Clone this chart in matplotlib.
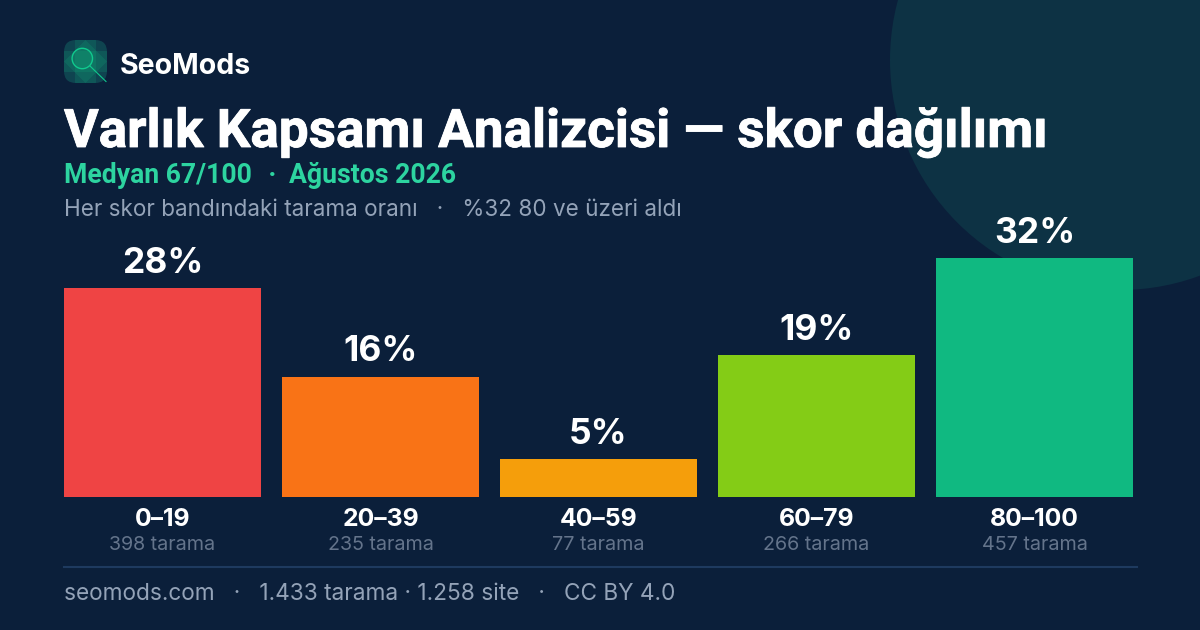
import matplotlib
matplotlib.use('Agg')
import matplotlib.pyplot as plt
import matplotlib.patheffects as pe
from matplotlib.patches import Circle, FancyBboxPatch, Polygon, Rectangle

# Data
bands = ['0–19', '20–39', '40–59', '60–79', '80–100']
shares = [28, 16.1, 5.1, 19, 32]
scans = [398, 235, 77, 266, 457]
colors = ['#ef4444', '#f97316', '#f59e0b', '#84cc16', '#10b981']

BG = '#0b1f3a'
plt.rcParams['font.family'] = ['Inter', 'DejaVu Sans']

fig = plt.figure(figsize=(12, 6.3), dpi=100, facecolor=BG)

# full figure layer in pixels
bg = fig.add_axes([0, 0, 1, 1])
bg.set_xlim(0, 1200)
bg.set_ylim(630, 0)
bg.axis('off')
bg.add_patch(Circle((1120, 60), 230, color='#0d3244', lw=0))

# logo
box = FancyBboxPatch((64, 40), 43, 43, boxstyle='round,pad=0,rounding_size=12', color='#0f4450', lw=0)
bg.add_patch(box)
for shape in [Rectangle((75, 40), 21, 43), Rectangle((64, 51), 43, 21),
              Polygon([(85.5, 40), (107, 61.5), (85.5, 83), (64, 61.5)])]:
    shape.set(color='#10b981', alpha=0.17, lw=0)
    bg.add_patch(shape)
    shape.set_clip_path(box)
bg.add_patch(Circle((82.3, 58.5), 10.2, fc='#10b981', alpha=0.2, lw=0))
bg.add_patch(Circle((82.3, 58.5), 10.2, fc='none', ec='#10c98d', lw=1))
bg.plot([90, 106], [66, 81.5], color='#10c98d', lw=0.8)


def label(x, y, s, size, color, weight='normal', ha='left', family=None, stroke=0):
    t = bg.text(x, y, s, fontsize=size, color=color, fontweight=weight, ha=ha, va='baseline',
                family=family or ['Inter', 'DejaVu Sans'])
    if stroke:
        t.set_path_effects([pe.withStroke(linewidth=stroke, foreground=color)])


label(120, 74, 'SeoMods', 20.5, 'white', 'bold')
label(64, 147, 'Varlık Kapsamı Analizcisi — skor dağılımı', 38.2, 'white', 'bold',
      family=['Roboto', 'DejaVu Sans'], stroke=0.6)
label(64, 183, 'Medyan 67/100', 19.2, '#2dd4a0', 'bold', family=['Roboto', 'DejaVu Sans'])
label(268, 183, '·', 18.5, '#2dd4a0', 'bold')
label(289, 183, 'Ağustos 2026', 19.2, '#2dd4a0', 'bold', family=['Roboto', 'DejaVu Sans'])
label(64, 216, 'Her skor bandındaki tarama oranı   ·   %32 80 ve üzeri aldı', 16.2, '#94a3b8')

# bars
ax = fig.add_axes([64 / 1200, (630 - 497) / 630, (1133 - 64) / 1200, (497 - 258) / 630])
ax.patch.set_alpha(0)
ax.axis('off')
pos = range(len(bands))
ax.bar(pos, shares, width=197 / 218, color=colors)
ax.set_xlim(-197 / 436, len(bands) - 1 + 197 / 436)
ax.set_ylim(0, max(shares))
for i, v in enumerate(shares):
    ax.annotate(f'{v:.0f}%', (i, v), xytext=(0, 11), textcoords='offset points', ha='center', va='baseline',
                fontsize=25.5, color='white', fontweight='bold', annotation_clip=False)
    ax.annotate(bands[i], (i, 0), xytext=(0, -21), textcoords='offset points', ha='center', va='baseline',
                fontsize=17.8, color='white', fontweight='bold', annotation_clip=False)
    ax.annotate(f'{scans[i]} tarama', (i, 0), xytext=(0, -38), textcoords='offset points', ha='center',
                va='baseline', fontsize=14.2, color='#64748b', annotation_clip=False)

# footer
bg.plot([64, 1137], [567, 567], color='#1e3a5f', lw=1.5)
label(64, 600, 'seomods.com   ·   1.433 tarama · 1.258 site   ·   CC BY 4.0', 16.3, '#94a3b8')

fig.savefig('out.png', dpi=100, facecolor=BG)
